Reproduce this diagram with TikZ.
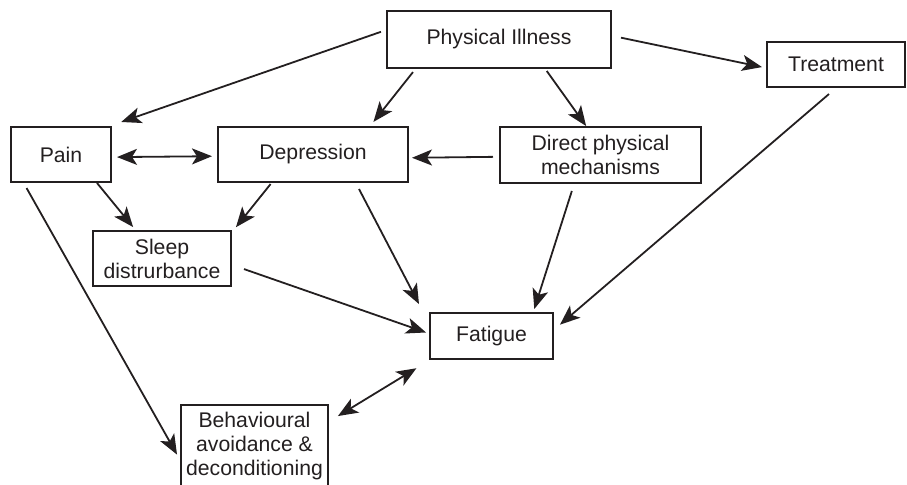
\documentclass[tikz,border=0pt]{standalone}
\usepackage{fontspec}
\setmainfont{Liberation Sans}
\usetikzlibrary{arrows.meta, positioning}
\definecolor{ink}{HTML}{231F20}

\begin{document}
\begin{tikzpicture}[
    x=0.5pt, y=-0.5pt,
    >={Stealth[length=10pt, width=8pt, inset=2.5pt]},
    box/.style={draw=ink, line width=1pt, text=ink, align=center,
        inner sep=0pt, outer sep=0pt,
        font=\fontsize{10.6}{12}\selectfont},
    link/.style={->, ink, line width=0.9pt},
]
\useasboundingbox (0,0) rectangle (907,484);
% boxes
\node[box, minimum width=112pt, minimum height=28.5pt] (illness) at (499,39.5) {Physical Illness};
\node[box, minimum width=69pt, minimum height=22.5pt] (treat) at (836,64.5) {Treatment};
\node[box, minimum width=50pt, minimum height=27.5pt] (pain) at (61,154.5) {Pain};
\node[box, minimum width=95pt, minimum height=27.5pt] (depr) at (313,154.5) {Depression};
\node[box, minimum width=100.5pt, minimum height=28pt] (mech) at (600.5,155) {Direct physical\\mechanisms};
\node[box, minimum width=69pt, minimum height=27.5pt] (sleep) at (162,258.5) {Sleep\\distrurbance};
\node[box, minimum width=61.5pt, minimum height=23pt] (fatigue) at (491.5,336) {Fatigue};
\node[box, minimum width=73.5pt, minimum height=41pt] (avoid) at (254.5,446) {Behavioural\\avoidance \&\\deconditioning};
% from physical illness
\draw[link, shorten <=3.2pt, shorten >=7.65pt] (illness.175.1) -- (pain.31.1);
\draw[link, shorten <=2.6pt, shorten >=3.25pt] (illness.199.2) -- (depr.26.2);
\draw[link, shorten <=1.85pt, shorten >=0.6pt] (illness.328.2) -- (mech.116.2);
\draw[link, shorten <=5.1pt, shorten >=2.55pt] (illness.2.4) -- (treat.183.8);
% middle row
\draw[link, <->, shorten <=3pt, shorten >=3pt] (pain.357.1) -- (depr.181.5);
\draw[link, shorten <=3.5pt, shorten >=2pt] (mech.181.1) -- (depr.358.5);
\draw[link, shorten <=0.65pt, shorten >=2.55pt] (pain.322.8) -- (sleep.133.2);
\draw[link, shorten <=1.3pt, shorten >=3.95pt] (depr.214.2) -- (sleep.20.2);
\draw[link, shorten <=3.45pt, shorten >=4.05pt] (pain.216.3) -- (avoid.192.4);
% into fatigue
\draw[link, shorten <=3.95pt, shorten >=11.9pt] (depr.327.0) -- (fatigue.170.0);
\draw[link, shorten <=6.9pt, shorten >=2.1pt] (sleep.355.1) -- (fatigue.178.5);
\draw[link, shorten <=4.2pt, shorten >=2.1pt] (mech.227.2) -- (fatigue.29.8);
\draw[link, shorten <=5.4pt, shorten >=4.6pt] (treat.273.1) -- (fatigue.5.6);
\draw[link, <->, shorten <=8.85pt, shorten >=5.8pt] (fatigue.201.9) -- (avoid.18.2);
\end{tikzpicture}
\end{document}
